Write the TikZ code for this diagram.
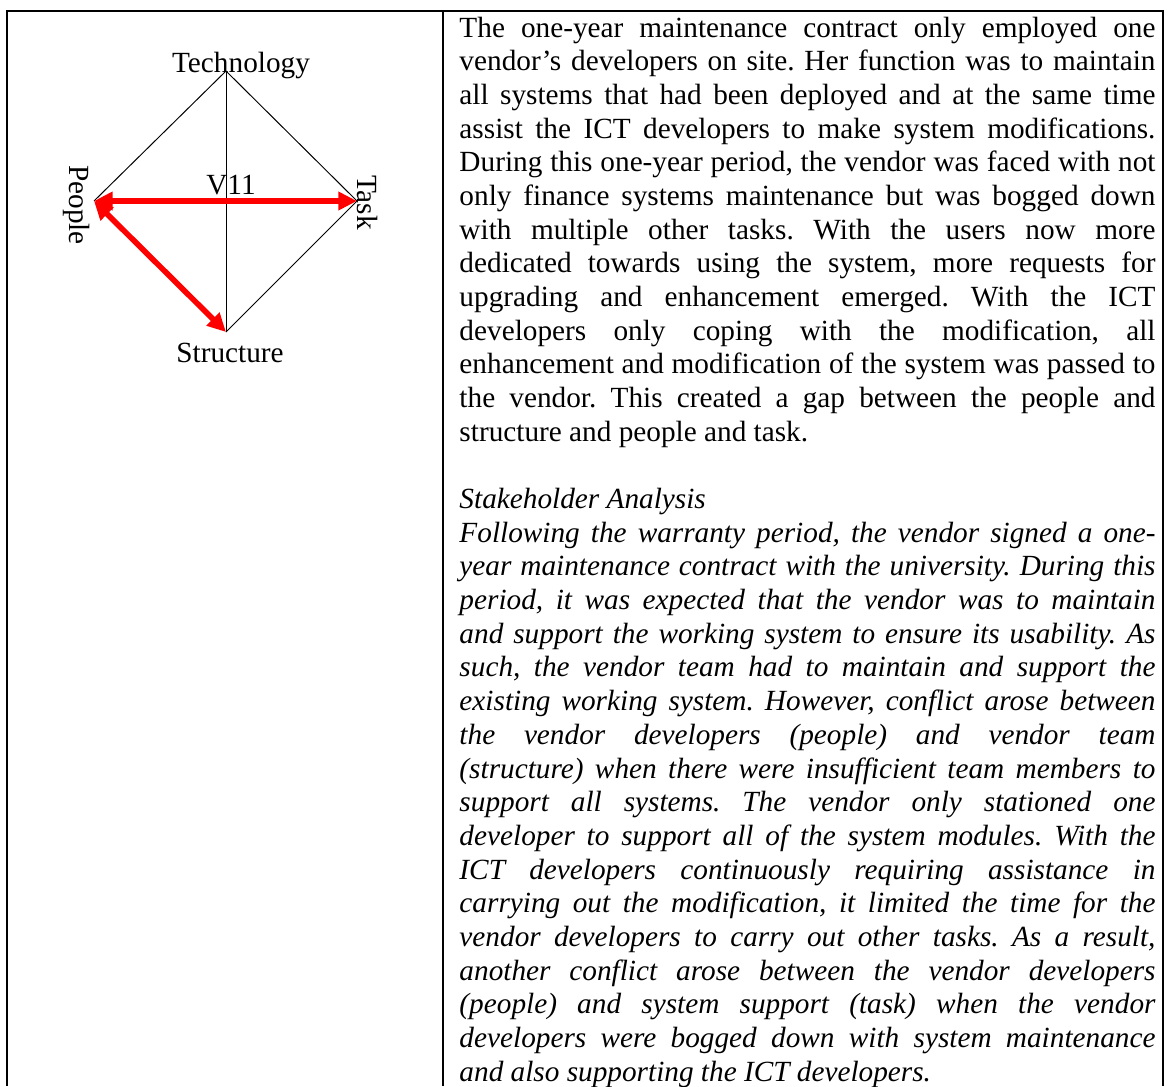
\documentclass[tikz,border=0pt]{standalone}
\usepackage{fontspec}
\setmainfont{Liberation Serif}
\usetikzlibrary{arrows.meta}

% one justified line of the text column, and one ragged (last) line
\newcommand\justline[1]{\hbox to\hsize{#1}}
\newcommand\plainline[1]{\hbox{#1}}

\tikzset{
  frame/.style={draw=black, line width=0.82pt},
  edge/.style={draw=black, line width=0.4pt},
  gap/.style={draw=red, line width=2.3pt,
    {Triangle[length=7.6pt,width=7.2pt]}-{Triangle[length=7.6pt,width=7.2pt]}},
  lbl/.style={inner sep=0pt, font=\fontsize{12pt}{13.8pt}\selectfont},
}

\begin{document}
\hbadness=10000
\frenchspacing
\begin{tikzpicture}[x=0.41pt, y=-0.41pt]
\useasboundingbox (0,0) rectangle (1169,1086);
\fill[white] (0,0) rectangle (1169,1086);

% table frame (open at the bottom) and column divider
\draw[frame] (7,1086) -- (7,11) -- (1163,11) -- (1163,1086);
\draw[frame] (443,11) -- (443,1086);

% diamond corners
\coordinate (tech) at (226,71);
\coordinate (people) at (94,201);
\coordinate (task) at (357,201);
\coordinate (struct) at (226,332);

% diamond edges
\draw[edge] (tech) -- (people);
\draw[edge] (tech) -- (task);
\draw[edge] (task) -- (struct);
\draw[edge] (tech) -- (struct);

% gaps
\draw[gap] (people) -- (task);
\draw[gap] (people) -- (struct);

% corner labels
\node[lbl, anchor=base] (techlbl) at (241,72) {Technology};
\node[lbl, anchor=base] (structlbl) at (230,362) {Structure};
\node[lbl, anchor=base] (vlbl) at (231,194) {V11};
\node[lbl, rotate=-90] (peoplelbl) at (77,205) {People};
\node[lbl, rotate=-90] (tasklbl) at (367.5,202.5) {Task};

% text column
\node[inner sep=0pt, anchor=base west] (body) at (459,37) {\vtop{%
  \hsize=285.36pt \parindent=0pt
  \fontsize{12pt}{13.81pt}\selectfont
  \justline{The one-year maintenance contract only employed one}
  \justline{vendor’s developers on site. Her function was to maintain}
  \justline{all systems that had been deployed and at the same time}
  \justline{assist the ICT developers to make system modifications.}
  \justline{During this one-year period, the vendor was faced with not}
  \justline{only finance systems maintenance but was bogged down}
  \justline{with multiple other tasks. With the users now more}
  \justline{dedicated towards using the system, more requests for}
  \justline{upgrading and enhancement emerged. With the ICT}
  \justline{developers only coping with the modification, all}
  \justline{enhancement and modification of the system was passed to}
  \justline{the vendor. This created a gap between the people and}
  \plainline{structure and people and task.}
  \plainline{}
  \itshape
  \plainline{Stakeholder Analysis}
  \justline{Following the warranty period, the vendor signed a one-}
  \justline{year maintenance contract with the university. During this}
  \justline{period, it was expected that the vendor was to maintain}
  \justline{and support the working system to ensure its usability. As}
  \justline{such, the vendor team had to maintain and support the}
  \justline{existing working system. However, conflict arose between}
  \justline{the vendor developers (people) and vendor team}
  \justline{(structure) when there were insufficient team members to}
  \justline{support all systems. The vendor only stationed one}
  \justline{developer to support all of the system modules. With the}
  \justline{ICT developers continuously requiring assistance in}
  \justline{carrying out the modification, it limited the time for the}
  \justline{vendor developers to carry out other tasks. As a result,}
  \justline{another conflict arose between the vendor developers}
  \justline{(people) and system support (task) when the vendor}
  \justline{developers were bogged down with system maintenance}
  \plainline{and also supporting the ICT developers.}
}};
\end{tikzpicture}
\end{document}
